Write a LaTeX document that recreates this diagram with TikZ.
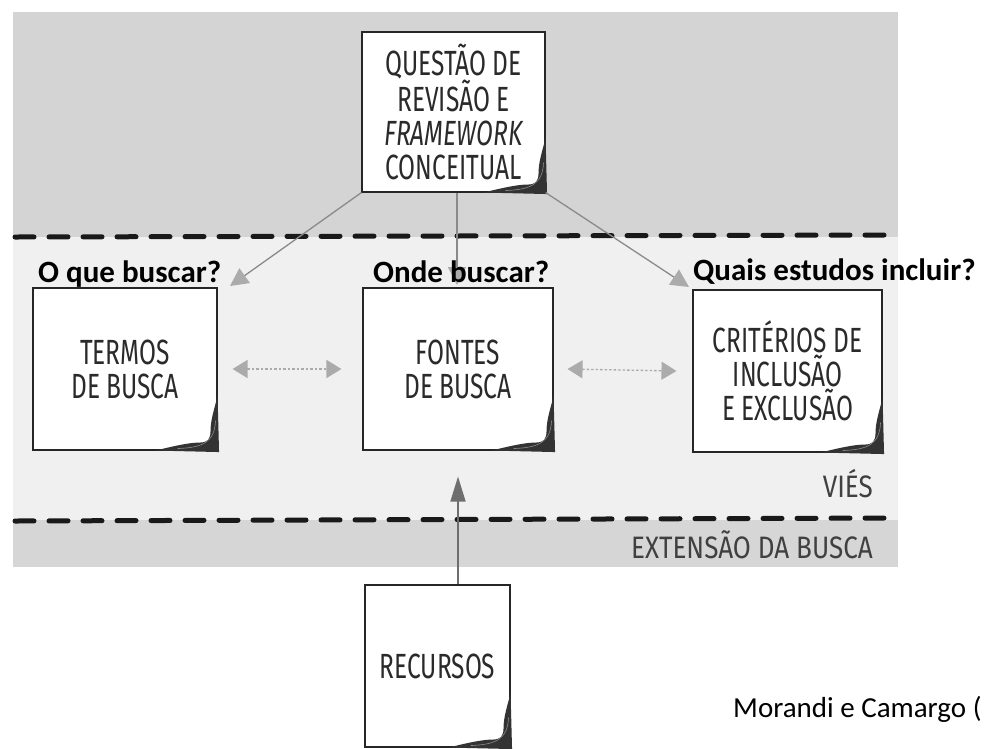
\documentclass[tikz,border=0pt]{standalone}
\usepackage{fontspec}
\setmainfont{Carlito}
\newfontfamily\handfont[FakeStretch=0.70]{Fira Sans}
\newfontfamily\bandfont[FakeStretch=0.84]{Fira Sans}
\usetikzlibrary{arrows.meta}
\definecolor{bandtop}{HTML}{D4D4D4}
\definecolor{bandmid}{HTML}{F0F0F0}
\definecolor{bandlow}{HTML}{D6D6D6}
\definecolor{linegray}{HTML}{8A8A8A}
\definecolor{headgray}{HTML}{ABABAB}
\definecolor{inkgray}{HTML}{2A2A2A}
\definecolor{darkarrow}{HTML}{6E6E6E}
\newcommand\notecurl[1]{%
  \fill[black!80] ([yshift=55pt]#1.south east)
    -- ([xshift=1.5pt,yshift=-1.5pt]#1.south east)
    -- ([xshift=-62pt]#1.south east)
    .. controls ([xshift=-38pt,yshift=6pt]#1.south east) and ([xshift=-26pt,yshift=8pt]#1.south east)
    .. ([xshift=-18pt,yshift=8pt]#1.south east)
    .. controls ([xshift=-10pt,yshift=8pt]#1.south east) and ([xshift=-7pt,yshift=11pt]#1.south east)
    .. ([xshift=-7pt,yshift=20pt]#1.south east)
    .. controls ([xshift=-7pt,yshift=32pt]#1.south east) and ([xshift=-2pt,yshift=45pt]#1.south east)
    .. cycle;
  \draw[white!55!black, line width=0.6pt] ([xshift=-40pt,yshift=2pt]#1.south east)
    .. controls ([xshift=-15pt,yshift=3pt]#1.south east) and ([xshift=-3pt,yshift=8pt]#1.south east)
    .. ([xshift=-2pt,yshift=30pt]#1.south east);}
\begin{document}
\begin{tikzpicture}[x=1pt,y=-1pt,
  note/.style={draw=black!85, line width=1.1pt, fill=white, inner sep=0pt, align=center,
    text=inkgray, font=\handfont\fontsize{35}{34}\selectfont},
  question/.style={anchor=base west, inner sep=0pt, font=\bfseries\fontsize{31}{36}\selectfont},
  bandlabel/.style={anchor=base east, inner sep=0pt, text=black!75, font=\bandfont\fontsize{31}{33}\selectfont},
  flow/.style={draw=linegray, line width=1.3pt, -{Triangle[width=18pt,length=18pt,color=headgray]}},
  dbl/.style={draw=headgray, line width=1.3pt, dash pattern=on 2.5pt off 2pt,
    {Triangle[width=18pt,length=15pt]}-{Triangle[width=18pt,length=15pt]}},
  upflow/.style={draw=darkarrow, line width=1.4pt, -{Triangle[width=15pt,length=25pt]}},
  divider/.style={draw=black!90, line width=5pt, dash pattern=on 19pt off 15pt, line cap=round}
]
\useasboundingbox (0,0) rectangle (985,748);
% bands
\fill[bandtop] (13,12) rectangle (898,237);
\fill[bandmid] (13,237) rectangle (898,520);
\fill[bandlow] (13,520) rectangle (898,567);
\coordinate (dl1) at (15,237); \coordinate (dr1) at (896,235);
\coordinate (dl2) at (15,521); \coordinate (dr2) at (896,518);
\draw[divider] (dl1) -- (dr1);
\draw[divider] (dl2) -- (dr2);
% notes
\node[note, minimum width=183pt, minimum height=160pt] (top) at (453.5,112)
  {QUESTÃO DE\\REVISÃO E\\{\itshape FRAMEWORK}\\CONCEITUAL};
\node[note, minimum width=184pt, minimum height=162pt] (termos) at (125,369) {TERMOS\\DE BUSCA};
\node[note, minimum width=190pt, minimum height=162pt] (fontes) at (458,369) {FONTES\\DE BUSCA};
\node[note, minimum width=189pt, minimum height=162pt] (crit) at (787.5,371) {CRITÉRIOS DE\\INCLUSÃO\\E EXCLUSÃO};
\node[note, minimum width=145pt, minimum height=162pt] (rec) at (437.5,666) {RECURSOS};
\notecurl{top}\notecurl{termos}\notecurl{fontes}\notecurl{crit}\notecurl{rec}
% arrows
\coordinate (tipL) at (230,286);
\coordinate (tipM) at (457,285);
\coordinate (tipR) at (689,287);
\draw[flow] (top.south west) -- (tipL);
\draw[flow] (top.south -| tipM) -- (tipM);
\draw[flow] (top.south east) -- (tipR);
\draw[dbl] ([xshift=15pt]termos.east) -- ([xshift=-21pt]fontes.west);
\draw[dbl] ([xshift=14pt]fontes.east) -- ([xshift=-16pt]crit.west);
\draw[upflow] (rec.north -| fontes.south) -- ([yshift=-26pt]fontes.south);
% labels
\node[question] (q1) at (38,282) {O que buscar?};
\node[question] (q2) at (373,282) {Onde buscar?};
\node[question] (q3) at (693,280) {Quais estudos incluir?};
\node[bandlabel] (vies) at (873,497) {VIÉS};
\node[bandlabel] (ext) at (873,558) {EXTENSÃO DA BUSCA};
\node[anchor=base west, inner sep=0pt, font=\fontsize{29}{34}\selectfont] (cite) at (733,717) {Morandi e Camargo (};
\end{tikzpicture}
\end{document}
